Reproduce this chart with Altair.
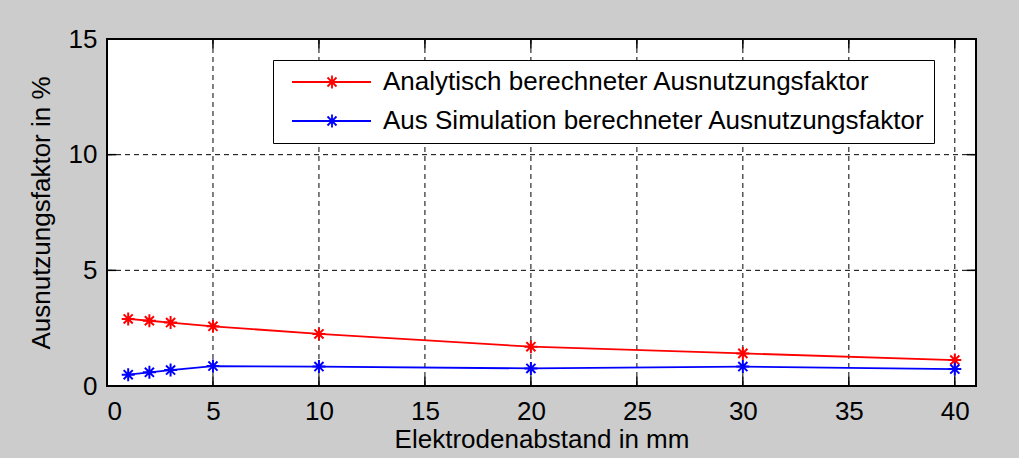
import altair as alt
import pandas as pd

# Measured utilisation factor vs. electrode spacing
abstand_mm = [1, 2, 3, 5, 10, 20, 30, 40]
analytisch = [2.90, 2.82, 2.74, 2.58, 2.25, 1.70, 1.41, 1.12]
simulation = [0.49, 0.59, 0.69, 0.86, 0.84, 0.76, 0.84, 0.73]

serien = [
    "Analytisch berechneter Ausnutzungsfaktor",
    "Aus Simulation berechneter Ausnutzungsfaktor",
]
farben = ["#ff0000", "#0000ff"]

x_ticks = [0, 5, 10, 15, 20, 25, 30, 35, 40]
y_ticks = [0, 5, 10, 15]
X_MAX = 41
Y_MAX = 15

# layout (pixels)
W, H = 869, 347
PAD = {"left": 107, "top": 39, "right": 43, "bottom": 72}
FONT = "Liberation Sans"
FS = 26

rows = []
for name, werte in zip(serien, [analytisch, simulation]):
    for xv, yv in zip(abstand_mm, werte):
        rows.append({"abstand": xv, "faktor": yv, "serie": name})
df = pd.DataFrame(rows)

x_scale = alt.Scale(domain=[0, X_MAX], nice=False, zero=False)
y_scale = alt.Scale(domain=[0, Y_MAX], nice=False, zero=False)
x_axis = alt.Axis(values=x_ticks, title="Elektrodenabstand in mm",
                  labelPadding=12, titlePadding=2)
y_axis = alt.Axis(values=y_ticks, title="Ausnutzungsfaktor in %",
                  labelPadding=10, titlePadding=14)


def X(field):
    return alt.X(field, type="quantitative", scale=x_scale, axis=x_axis)


def Y(field):
    return alt.Y(field, type="quantitative", scale=y_scale, axis=y_axis)


# MATLAB-style asterisk marker
STAR = "M-1,0H1M0,-1V1M-0.7,-0.7L0.7,0.7M-0.7,0.7L0.7,-0.7"
# legend sample: line with an asterisk in its middle
LEG_SYMBOL = ("M-0.3,0H7.6M3.7,-0.65V0.65M3.05,0H4.35"
              "M3.25,-0.45L4.15,0.45M3.25,0.45L4.15,-0.45")

box = pd.DataFrame({"x0": [0], "x1": [X_MAX], "y0": [0], "y1": [Y_MAX]})

TX = 0.4   # inner tick length in y units
TY = 0.43  # inner tick length in x units
xt = pd.DataFrame({
    "t": x_ticks,
    "lo": [0] * len(x_ticks), "hi": [Y_MAX] * len(x_ticks),
    "lo_in": [TX] * len(x_ticks), "hi_in": [Y_MAX - TX] * len(x_ticks),
})
yt = pd.DataFrame({
    "t": y_ticks,
    "lo": [0] * len(y_ticks), "hi": [X_MAX] * len(y_ticks),
    "lo_in": [TY] * len(y_ticks), "hi_in": [X_MAX - TY] * len(y_ticks),
})

# white axes area
plot_bg = alt.Chart(box).mark_rect(color="white").encode(
    x=X("x0"), x2="x1", y=Y("y0"), y2="y1",
)

dash = dict(color="black", strokeWidth=1, strokeDash=[5, 4])
grid_x = alt.Chart(xt).mark_rule(**dash).encode(x=X("t"), y=Y("lo"), y2="hi")
grid_y = alt.Chart(yt).mark_rule(**dash).encode(y=Y("t"), x=X("lo"), x2="hi")

solid = dict(color="black", strokeWidth=1.5)
ticks_bottom = alt.Chart(xt).mark_rule(**solid).encode(x=X("t"), y=Y("lo"), y2="lo_in")
ticks_top = alt.Chart(xt).mark_rule(**solid).encode(x=X("t"), y=Y("hi"), y2="hi_in")
ticks_left = alt.Chart(yt).mark_rule(**solid).encode(y=Y("t"), x=X("lo"), x2="lo_in")
ticks_right = alt.Chart(yt).mark_rule(**solid).encode(y=Y("t"), x=X("hi"), x2="hi_in")

color_lines = alt.Color(
    "serie:N",
    scale=alt.Scale(domain=serien, range=farben),
    legend=alt.Legend(
        title=None,
        orient="none",
        legendX=166,
        legendY=21,
        symbolType=LEG_SYMBOL,
        symbolSize=400,
        symbolStrokeWidth=1.8,
        labelFont=FONT,
        labelFontSize=FS,
        labelColor="black",
        labelOffset=75,
        labelLimit=0,
        padding=9,
        rowPadding=13,
        strokeColor="black",
        fillColor="white",
    ),
)

lines = alt.Chart(df).mark_line(strokeWidth=1.8).encode(
    x=X("abstand"), y=Y("faktor"), color=color_lines,
)

points = alt.Chart(df).mark_point(
    shape=STAR, size=169, filled=False, strokeWidth=2, opacity=1
).encode(
    x=X("abstand"),
    y=Y("faktor"),
    color=alt.Color("serie:N", scale=alt.Scale(domain=serien, range=farben), legend=None),
)

frame = alt.Chart(box).mark_rect(fillOpacity=0, stroke="black", strokeWidth=2).encode(
    x=X("x0"), x2="x1", y=Y("y0"), y2="y1",
)

chart = (
    alt.layer(plot_bg, grid_x, grid_y, ticks_bottom, ticks_top,
              ticks_left, ticks_right, lines, points, frame)
    .resolve_scale(color="independent")
    .properties(
        width=W,
        height=H,
        autosize=alt.AutoSizeParams(type="none"),
        padding=PAD,
        background="#cccccc",
    )
    .configure_view(strokeWidth=0)
    .configure_axis(
        domain=False,
        ticks=False,
        grid=False,
        labelFont=FONT,
        labelFontSize=FS,
        labelColor="black",
        titleFont=FONT,
        titleFontSize=FS,
        titleFontWeight="normal",
        titleColor="black",
    )
)

chart.save("out.html", embed_options={"renderer": "svg", "actions": False})
